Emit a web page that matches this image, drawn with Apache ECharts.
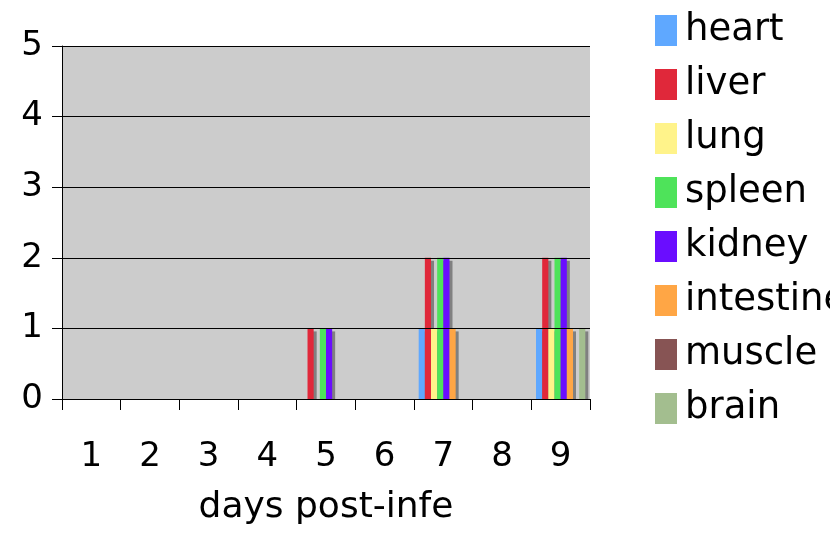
<!DOCTYPE html>
<html>
<head>
<meta charset="utf-8">
<script src="https://cdn.jsdelivr.net/npm/echarts@6/dist/echarts.min.js"></script>
<style>
  html, body { margin: 0; padding: 0; background: #ffffff; }
  #chart { width: 830px; height: 536px; }
</style>
</head>
<body>
<div id="chart"></div>
<script>
// Days after infection (category axis)
const days = ['1', '2', '3', '4', '5', '6', '7', '8', '9'];

// Organ scores per day
const heart     = [0, 0, 0, 0, 0, 0, 1, 0, 1];
const liver     = [0, 0, 0, 0, 1, 0, 2, 0, 2];
const lung      = [0, 0, 0, 0, 0, 0, 1, 0, 1];
const spleen    = [0, 0, 0, 0, 1, 0, 2, 0, 2];
const kidney    = [0, 0, 0, 0, 1, 0, 2, 0, 2];
const intestine = [0, 0, 0, 0, 0, 0, 1, 0, 1];
const muscle    = [0, 0, 0, 0, 0, 0, 0, 0, 0];
const brain     = [0, 0, 0, 0, 0, 0, 0, 0, 1];

const organNames = ['heart', 'liver', 'lung', 'spleen', 'kidney', 'intestine', 'muscle', 'brain'];
const organValues = [heart, liver, lung, spleen, kidney, intestine, muscle, brain];
const organColors = ['#5FA8FF', '#E0283A', '#FFF38A', '#4EE35A', '#6A0DFF', '#FFA645', '#875454', '#A3BE8F'];

const yTicks = [0, 1, 2, 3, 4, 5];

const font = 'DejaVu Sans, Verdana, sans-serif';

// Plot area placement
const GRID = { left: 62, right: 240, top: 46, bottom: 137 };
const W = 830, H = 536;

// Zero-height bars get no drop shadow so nothing shows along the axis
const toBarData = (values) => values.map(v => (
  v === 0 ? { value: v, itemStyle: { shadowColor: 'transparent' } } : v
));

const chart = echarts.init(document.getElementById('chart'), null, { renderer: 'canvas' });

chart.setOption({
  animation: false,
  backgroundColor: '#ffffff',
  textStyle: { fontFamily: font, color: '#000' },
  grid: {
    left: GRID.left, right: GRID.right, top: GRID.top, bottom: GRID.bottom,
    outerBoundsMode: 'none',
    containLabel: false,
    show: true, backgroundColor: '#cccccc', borderWidth: 0
  },
  // White strip below the plot so bar shadows stop at the baseline
  graphic: [{
    type: 'rect',
    z: 5,
    silent: true,
    shape: { x: GRID.left + 1, y: H - GRID.bottom + 1, width: W - GRID.left - GRID.right + 6, height: 6 },
    style: { fill: '#ffffff' }
  }],
  legend: {
    orient: 'vertical',
    left: 650, top: 7,
    itemWidth: 22, itemHeight: 31, itemGap: 17,
    icon: 'rect',
    data: organNames,
    textStyle: { fontFamily: font, fontSize: 37, color: '#000', padding: [0, 0, 0, 3] },
    itemStyle: { shadowColor: 'transparent', shadowOffsetX: 0, shadowOffsetY: 0, shadowBlur: 0 },
    selectedMode: false
  },
  xAxis: {
    type: 'category',
    data: days,
    z: 10,
    name: 'days post-infe',
    nameLocation: 'middle',
    nameGap: 91,
    nameTextStyle: { fontFamily: font, fontSize: 36, color: '#000' },
    axisLine: { lineStyle: { color: '#000', width: 1 } },
    axisTick: { show: true, length: 11, lineStyle: { color: '#000' } },
    axisLabel: { fontFamily: font, fontSize: 34, color: '#000', margin: 41 },
    splitLine: { show: false }
  },
  yAxis: {
    type: 'value',
    min: yTicks[0], max: yTicks[yTicks.length - 1], interval: 1,
    z: 10,
    axisLine: { show: true, lineStyle: { color: '#000', width: 1 } },
    axisTick: { show: true, length: 10, lineStyle: { color: '#000' } },
    axisLabel: { fontFamily: font, fontSize: 34, color: '#000', margin: 19 },
    splitLine: { show: true, lineStyle: { color: '#000', width: 1 } }
  },
  series: organNames.map((name, i) => ({
    name: name,
    type: 'bar',
    data: toBarData(organValues[i]),
    barGap: 0,
    barCategoryGap: '16%',
    itemStyle: {
      color: organColors[i],
      shadowColor: '#808080',
      shadowOffsetX: 3,
      shadowOffsetY: 3,
      shadowBlur: 0
    }
  }))
});
</script>
</body>
</html>
